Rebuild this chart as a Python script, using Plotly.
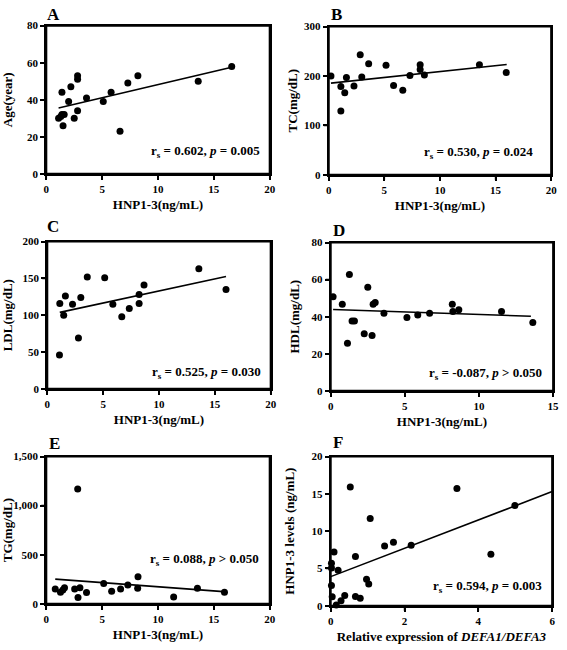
import plotly.graph_objects as go

# ---------------- data ----------------
a_x = [1.1, 1.3, 1.4, 1.6, 1.4, 1.5, 2.0, 2.2, 2.5, 2.8, 2.8, 2.8, 3.6, 5.1, 5.8, 6.6, 7.3, 8.2, 13.6, 16.6]
a_y = [30, 31, 32, 32, 44, 26, 39, 47, 30, 34, 51, 53, 41, 39, 44, 23, 49, 53, 50, 58]
a_fit_x = [1.1, 16.5]
a_fit_y = [35.5, 57.4]

b_x = [0.2, 1.09, 1.09, 1.44, 1.59, 2.27, 2.83, 2.97, 3.59, 5.15, 5.83, 6.66, 7.3, 8.22, 8.22, 8.6, 13.55, 15.96]
b_y = [200, 179, 129, 166, 197, 180, 243, 198, 225, 222, 181, 171, 201, 223, 213, 202, 223, 207]
b_fit_x = [0.2, 16.0]
b_fit_y = [185.7, 223.4]

c_x = [1.12, 1.09, 1.47, 1.62, 2.26, 3.0, 2.79, 3.58, 5.14, 5.87, 6.67, 7.34, 8.22, 8.22, 8.66, 13.57, 16.0]
c_y = [116, 46, 100, 126, 115, 124, 69, 152, 151, 115, 98, 109, 128, 116, 141, 163, 135]
c_fit_x = [1.12, 16.0]
c_fit_y = [103.8, 152.5]

d_x = [0.16, 0.78, 1.26, 1.13, 1.44, 1.6, 2.26, 2.5, 2.79, 2.86, 3.0, 3.59, 5.14, 5.87, 6.67, 8.2, 8.24, 8.64, 11.52, 13.63]
d_y = [50.7, 46.7, 62.7, 25.7, 37.7, 37.7, 30.8, 55.9, 29.8, 46.7, 47.6, 41.8, 39.6, 40.9, 41.8, 46.7, 42.8, 43.7, 42.8, 36.8]
d_fit_x = [0.16, 13.5]
d_fit_y = [43.9, 40.2]

e_x = [0.8, 1.27, 1.48, 1.63, 2.54, 2.81, 2.84, 3.01, 3.6, 5.14, 5.85, 6.65, 7.3, 8.21, 8.18, 11.4, 13.53, 15.95]
e_y = [150, 117, 140, 164, 150, 1169, 63, 164, 114, 207, 127, 150, 190, 274, 157, 70, 157, 117]
e_fit_x = [0.8, 15.86]
e_fit_y = [250.6, 123.6]

f_x = [0.02, 0.02, 0.02, 0.04, 0.09, 0.15, 0.2, 0.28, 0.38, 0.53, 0.67, 0.67, 0.8, 0.97, 1.03, 1.07, 1.46, 1.7, 2.18, 3.42, 4.34, 4.99]
f_y = [5.7, 5.05, 2.7, 1.2, 7.2, 0.1, 4.75, 0.66, 1.36, 15.9, 6.6, 1.23, 1.0, 3.56, 2.9, 11.7, 8.0, 8.5, 8.1, 15.7, 6.9, 13.45]
f_fit_x = [0.0, 6.0]
f_fit_y = [3.9, 15.3]

letters = ["A", "B", "C", "D", "E", "F"]
stats = [
    "r<sub>s</sub> = 0.602, <i>p</i> = 0.005",
    "r<sub>s</sub> = 0.530, <i>p</i> = 0.024",
    "r<sub>s</sub> = 0.525, <i>p</i> = 0.030",
    "r<sub>s</sub> = -0.087, <i>p</i> &gt; 0.050",
    "r<sub>s</sub> = 0.088, <i>p</i> &gt; 0.050",
    "r<sub>s</sub> = 0.594, <i>p</i> = 0.003",
]
x_titles = ["HNP1-3(ng/mL)"] * 5 + ["Relative expression of <i>DEFA1/DEFA3</i>"]
y_titles = ["Age(year)", "TC(mg/dL)", "LDL(mg/dL)", "HDL(mg/dL)", "TG(mg/dL)", "HNP1-3 levels (ng/mL)"]
x_ranges = [[0, 20], [0, 20], [0, 20], [0, 15], [0, 20], [0, 6]]
x_dticks = [5, 5, 5, 5, 5, 2]
y_ranges = [[0, 80], [0, 300], [0, 200], [0, 80], [0, 1500], [0, 20]]
y_dticks = [20, 100, 50, 20, 500, 5]

# ---------------- layout geometry (pixels) ----------------
W, H = 567, 650
boxes = [  # x0, x1, y0(top), y1(bottom)
    (44, 271, 20, 171),
    (331, 557, 21, 172),
    (45, 272, 240, 390),
    (333, 559, 241, 392),
    (44, 271, 459, 609),
    (333, 558, 459, 611),
]
letter_pos = [(43, 9), (331, 9), (43, 225), (333, 229), (45, 446), (333, 445)]
stat_pos = [(263, 148), (541, 149), (264, 373), (550, 374), (262, 564), (550, 591)]
y_standoff = [16, 3, 10, 9, 4, 14]

FONT = "Liberation Serif"
series = [(a_x, a_y, a_fit_x, a_fit_y), (b_x, b_y, b_fit_x, b_fit_y), (c_x, c_y, c_fit_x, c_fit_y),
          (d_x, d_y, d_fit_x, d_fit_y), (e_x, e_y, e_fit_x, e_fit_y), (f_x, f_y, f_fit_x, f_fit_y)]


def bold(s):
    return "<b>" + s + "</b>"


fig = go.Figure()
annotations = []
shapes = []
for i, (xs, ys, fx, fy) in enumerate(series):
    n = "" if i == 0 else str(i + 1)
    xa, ya = "x" + n, "y" + n
    fig.add_trace(go.Scatter(x=fx, y=fy, mode="lines", xaxis=xa, yaxis=ya, hoverinfo="skip",
                             line=dict(color="black", width=1.6), cliponaxis=False, showlegend=False))
    fig.add_trace(go.Scatter(x=xs, y=ys, mode="markers", xaxis=xa, yaxis=ya,
                             marker=dict(color="black", size=7), cliponaxis=False, showlegend=False))
    x0, x1, t, b = boxes[i]
    xt = list(range(x_ranges[i][0], x_ranges[i][1] + 1, x_dticks[i]))
    yt = list(range(y_ranges[i][0], y_ranges[i][1] + 1, y_dticks[i]))
    common = dict(showline=True, linecolor="black", linewidth=2, mirror=True, ticks="outside",
                  ticklen=4, tickwidth=1.5, tickcolor="black", showgrid=False, zeroline=False,
                  tickmode="array", tickfont=dict(family=FONT, size=11, color="black"))
    fig.layout["xaxis" + n] = dict(domain=[x0 / W, x1 / W], range=x_ranges[i],
                                   tickvals=xt, ticktext=[bold(str(v)) for v in xt],
                                   anchor=ya,
                                   title=dict(text=bold(x_titles[i]), standoff=6,
                                              font=dict(family=FONT, size=13, color="black")),
                                   **common)
    fig.layout["yaxis" + n] = dict(domain=[1 - b / H, 1 - t / H], range=y_ranges[i],
                                   tickvals=yt, ticktext=[bold(f"{v:,}") for v in yt],
                                   anchor=xa,
                                   title=dict(text=bold(y_titles[i]), standoff=y_standoff[i],
                                              font=dict(family=FONT, size=13, color="black")),
                                   **common)
    # frame and tick marks as shapes (guarantees the boxed Prism look)
    shapes.append(dict(type="rect", xref=xa + " domain", yref=ya + " domain", x0=0, x1=1, y0=0, y1=1,
                       line=dict(color="black", width=2), layer="above"))
    for v in xt:
        shapes.append(dict(type="line", xref=xa, yref=ya + " domain", x0=v, x1=v,
                           ysizemode="pixel", yanchor=0, y0=0, y1=-5,
                           line=dict(color="black", width=1.5), layer="above"))
    for v in yt:
        shapes.append(dict(type="line", yref=ya, xref=xa + " domain", y0=v, y1=v,
                           xsizemode="pixel", xanchor=0, x0=0, x1=-5,
                           line=dict(color="black", width=1.5), layer="above"))
    lx, ly = letter_pos[i]
    annotations.append(dict(text=bold(letters[i]), x=lx / W, y=1 - ly / H, xref="paper", yref="paper",
                            xanchor="left", yanchor="middle", showarrow=False,
                            font=dict(family=FONT, size=17, color="black")))
    sx, sy = stat_pos[i]
    annotations.append(dict(text=bold(stats[i]), x=sx / W, y=1 - sy / H, xref="paper",
                            yref="paper", xanchor="right", yanchor="middle", showarrow=False,
                            font=dict(family=FONT, size=13, color="black")))

fig.update_layout(width=W, height=H, margin=dict(l=0, r=0, t=0, b=0),
                  paper_bgcolor="white", plot_bgcolor="white",
                  annotations=annotations, shapes=shapes)
fig.write_html("out.html", config={"displayModeBar": False},
               post_script="document.body.style.margin='0';")
